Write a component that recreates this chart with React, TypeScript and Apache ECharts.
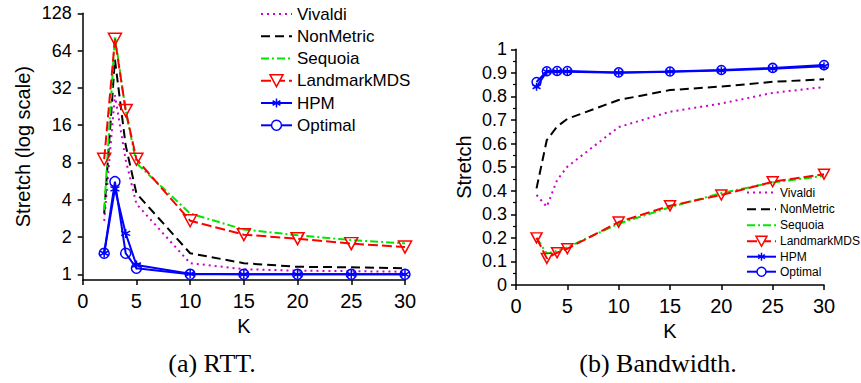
import React, { useEffect, useRef } from 'react';
import * as echarts from 'echarts';

// ---- data ----
const kValues = [2, 3, 4, 5, 10, 15, 20, 25, 30];
const seriesNames = ['Vivaldi', 'NonMetric', 'Sequoia', 'LandmarkMDS', 'HPM', 'Optimal'];

// (a) RTT stretch (log scale)
const rttVivaldi = [2.7, 28, 8.4, 3.7, 1.23, 1.1, 1.07, 1.06, 1.05];
const rttNonMetric = [3.1, 54, 11, 4.5, 1.48, 1.23, 1.15, 1.14, 1.12];
const rttSequoia = [3.3, 84, 21, 7.9, 3.1, 2.3, 2.07, 1.89, 1.78];
const rttLandmarkMDS = [8.5, 79, 21, 8.5, 2.71, 2.09, 1.94, 1.77, 1.66];
const rttHPM = [1.48, 4.9, 2.14, 1.19, 1.01, 1.0, 1.0, 1.0, 1.0];
const rttOptimal = [1.48, 5.6, 1.48, 1.12, 1.0, 1.0, 1.0, 1.0, 1.0];

// (b) Bandwidth stretch
const bwVivaldi = [0.382, 0.332, 0.445, 0.502, 0.67, 0.735, 0.77, 0.815, 0.84];
const bwNonMetric = [0.41, 0.615, 0.672, 0.705, 0.785, 0.827, 0.842, 0.862, 0.873];
const bwSequoia = [0.2, 0.133, 0.145, 0.16, 0.26, 0.33, 0.39, 0.435, 0.463];
const bwLandmarkMDS = [0.2, 0.113, 0.137, 0.154, 0.267, 0.336, 0.382, 0.438, 0.47];
const bwHPM = [0.841, 0.905, 0.905, 0.905, 0.9, 0.905, 0.91, 0.918, 0.928];
const bwOptimal = [0.861, 0.907, 0.908, 0.908, 0.902, 0.906, 0.912, 0.921, 0.933];

const rttData = [rttVivaldi, rttNonMetric, rttSequoia, rttLandmarkMDS, rttHPM, rttOptimal];
const bwData = [bwVivaldi, bwNonMetric, bwSequoia, bwLandmarkMDS, bwHPM, bwOptimal];

const captions = ['(a) RTT.', '(b) Bandwidth.'];
const yNames = ['Stretch (log scale)', 'Stretch'];
const xName = 'K';

// ---- styles ----
const FONT = '"Liberation Sans", Arial, Helvetica, sans-serif';
const SERIF = '"Liberation Serif", "Times New Roman", serif';
const ASTERISK = 'path://M0,-10L0,10M-8.66,-5L8.66,5M-8.66,5L8.66,-5';

type Sty = { color: string; dash: any; symbol: string };
const STY: Record<string, Sty> = {
  Vivaldi: { color: '#cc00cc', dash: [2, 4], symbol: 'none' },
  NonMetric: { color: '#000000', dash: [9, 5], symbol: 'none' },
  Sequoia: { color: '#00e600', dash: [8, 3, 2, 3], symbol: 'none' },
  LandmarkMDS: { color: '#ff0000', dash: [10, 4], symbol: 'triangle' },
  HPM: { color: '#0000ff', dash: 'solid', symbol: 'asterisk' },
  Optimal: { color: '#0000ff', dash: 'solid', symbol: 'circle' },
};

function makeSeries(name: string, values: number[], idx: number, big: boolean) {
  const s = STY[name];
  let symbol: string = 'none';
  let symbolSize: any = 0;
  let symbolRotate = 0;
  if (s.symbol === 'triangle') {
    symbol = 'triangle';
    symbolSize = big ? [13, 12] : [11, 10];
    symbolRotate = 180;
  } else if (s.symbol === 'circle') {
    symbol = 'circle';
    symbolSize = big ? 10 : 9;
  } else if (s.symbol === 'asterisk') {
    symbol = ASTERISK;
    symbolSize = big ? 9 : 8;
  }
  return {
    type: 'line',
    name,
    xAxisIndex: idx,
    yAxisIndex: idx,
    data: kValues.map((k, i) => [k, values[i]]),
    symbol,
    symbolSize,
    symbolRotate,
    showSymbol: symbol !== 'none',
    clip: false,
    lineStyle: { color: s.color, width: 2, type: s.dash },
    itemStyle: { color: 'rgba(0,0,0,0)', borderColor: s.color, borderWidth: 1.5 },
    emphasis: { disabled: true },
    z: 2,
  };
}

function legendGraphics(x0: number, x1: number, tx: number, ys: number[], fontSize: number, big: boolean) {
  const els: any[] = [];
  const cx = (x0 + x1) / 2;
  seriesNames.forEach((name, i) => {
    const s = STY[name];
    const y = ys[i];
    els.push({
      type: 'line',
      shape: { x1: x0, y1: y, x2: x1, y2: y },
      style: { stroke: s.color, lineWidth: 2, lineDash: s.dash === 'solid' ? null : s.dash },
    });
    if (s.symbol === 'triangle') {
      const w = big ? 13 : 11;
      const h = big ? 12 : 10;
      els.push({
        type: 'polygon',
        shape: { points: [[cx - w / 2, y - h / 2], [cx + w / 2, y - h / 2], [cx, y + h / 2]] },
        style: { fill: '#fff', stroke: s.color, lineWidth: 1.5 },
      });
    } else if (s.symbol === 'circle') {
      els.push({
        type: 'circle',
        shape: { cx, cy: y, r: big ? 5 : 4.5 },
        style: { fill: '#fff', stroke: s.color, lineWidth: 1.5 },
      });
    } else if (s.symbol === 'asterisk') {
      const r = big ? 4.5 : 4;
      [0, 60, 120].forEach((a) => {
        const rad = (a * Math.PI) / 180;
        els.push({
          type: 'line',
          shape: { x1: cx - r * Math.sin(rad), y1: y - r * Math.cos(rad), x2: cx + r * Math.sin(rad), y2: y + r * Math.cos(rad) },
          style: { stroke: s.color, lineWidth: 1.5 },
        });
      });
    }
    els.push({
      type: 'text',
      x: tx,
      y,
      style: { text: name, fontSize, fontFamily: FONT, fill: '#000', align: 'left', verticalAlign: 'middle' },
    });
  });
  return els;
}

const axisLineStyle = { color: '#000', width: 1.5 };

export default function App() {
  const ref = useRef<HTMLDivElement>(null);
  useEffect(() => {
    if (!ref.current) return;
    const chart = echarts.init(ref.current, null, { renderer: 'svg' });
    const option: any = {
      animation: false,
      backgroundColor: '#fff',
      textStyle: { fontFamily: FONT, color: '#000' },
      grid: [
        { left: 82.7, top: 13.3, width: 322.3, height: 266.7 },
        { left: 516, top: 49.3, width: 308, height: 235.7 },
      ],
      xAxis: [0, 1].map((i) => ({
        type: 'value',
        gridIndex: i,
        min: 0,
        max: 30,
        interval: 5,
        name: xName,
        nameLocation: 'middle',
        nameGap: 30,
        nameTextStyle: { fontSize: 20, fontFamily: FONT, color: '#000' },
        axisLine: { show: true, onZero: false, lineStyle: axisLineStyle },
        axisTick: { show: true, inside: false, length: 5, lineStyle: axisLineStyle },
        axisLabel: { fontSize: 20, fontFamily: FONT, color: '#000', margin: 11 },
        splitLine: { show: false },
      })),
      yAxis: [
        {
          type: 'log',
          logBase: 2,
          gridIndex: 0,
          min: 0.9,
          max: 128,
          name: yNames[0],
          nameLocation: 'middle',
          nameGap: 50,
          nameTextStyle: { fontSize: 20, fontFamily: FONT, color: '#000' },
          axisLine: { show: true, onZero: false, lineStyle: axisLineStyle },
          axisTick: { show: true, inside: false, length: 5, lineStyle: axisLineStyle },
          axisLabel: {
            fontSize: 18,
            fontFamily: FONT,
            color: '#000',
            margin: 11,
            showMinLabel: false,
            formatter: (v: number) => (v < 0.99 ? '' : String(Math.round(v))),
          },
          splitLine: { show: false },
        },
        {
          type: 'value',
          gridIndex: 1,
          min: 0,
          max: 1,
          interval: 0.1,
          name: yNames[1],
          nameLocation: 'middle',
          nameGap: 42,
          nameTextStyle: { fontSize: 20, fontFamily: FONT, color: '#000' },
          axisLine: { show: true, onZero: false, lineStyle: axisLineStyle },
          axisTick: { show: true, inside: false, length: 5, lineStyle: axisLineStyle },
          minorTick: { show: true, splitNumber: 2, length: 3, lineStyle: { color: '#000', width: 1.2 } },
          axisLabel: { fontSize: 18, fontFamily: FONT, color: '#000', margin: 9 },
          splitLine: { show: false },
        },
      ],
      series: [
        ...seriesNames.map((n, i) => makeSeries(n, rttData[i], 0, true)),
        ...seriesNames.map((n, i) => makeSeries(n, bwData[i], 1, false)),
      ],
      graphic: [
        ...legendGraphics(261, 292, 297, [14, 36.3, 58.5, 80.7, 103, 125.3], 17, true),
        ...legendGraphics(747, 776, 780, [192.5, 209.3, 225.3, 241.3, 256.7, 271.7], 12, false),
        {
          type: 'text',
          x: 212,
          y: 363,
          style: { text: captions[0], fontSize: 26, fontFamily: SERIF, fill: '#000', align: 'center', verticalAlign: 'middle' },
        },
        {
          type: 'text',
          x: 658,
          y: 363,
          style: { text: captions[1], fontSize: 26, fontFamily: SERIF, fill: '#000', align: 'center', verticalAlign: 'middle' },
        },
      ],
    };
    chart.setOption(option);
    return () => chart.dispose();
  }, []);
  return (
    <div
      ref={ref}
      style={{ position: 'absolute', left: 0, top: 0, width: 861, height: 383, background: '#fff' }}
    />
  );
}
